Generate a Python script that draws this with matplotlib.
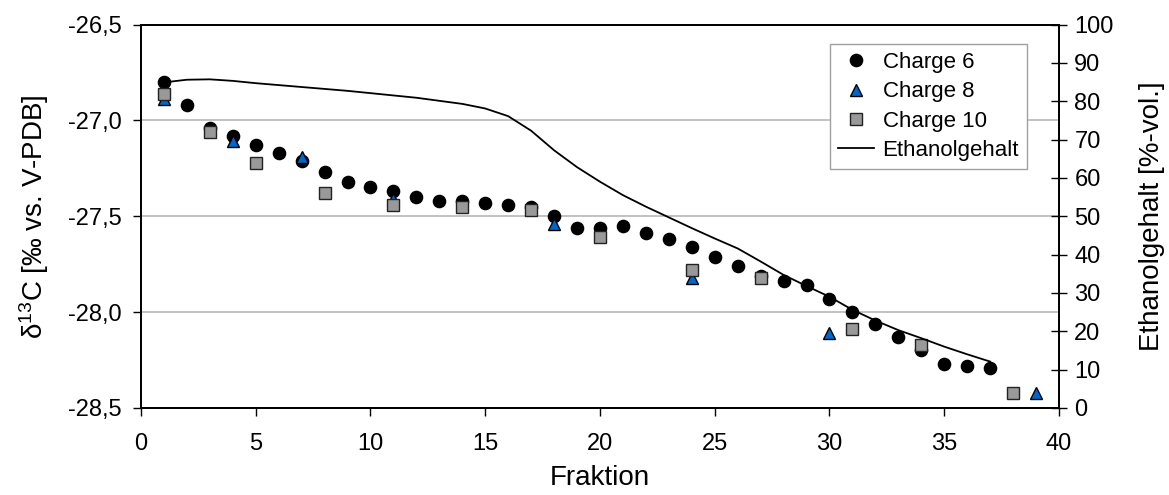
import matplotlib
matplotlib.use("Agg")
import matplotlib.pyplot as plt
from matplotlib.ticker import FuncFormatter, MultipleLocator

plt.rcParams['font.family'] = ['Liberation Sans', 'DejaVu Sans']
plt.rcParams['mathtext.fontset'] = 'custom'
plt.rcParams['mathtext.rm'] = 'Liberation Sans'
plt.rcParams['mathtext.it'] = 'Liberation Sans:italic'
plt.rcParams['mathtext.default'] = 'regular'

# Charge 6 (black circles)
c6_x = list(range(1, 38))
c6_y = [-26.80, -26.92, -27.04, -27.08, -27.13, -27.17, -27.21, -27.27, -27.32, -27.35,
        -27.37, -27.40, -27.42, -27.42, -27.43, -27.44, -27.45, -27.50, -27.56, -27.56,
        -27.55, -27.59, -27.62, -27.66, -27.71, -27.76, -27.81, -27.84, -27.86, -27.93,
        -28.00, -28.06, -28.13, -28.20, -28.27, -28.28, -28.29]

# Charge 8 (blue triangles)
c8_x = [1, 4, 7, 11, 18, 24, 30, 39]
c8_y = [-26.89, -27.11, -27.19, -27.41, -27.54, -27.82, -28.11, -28.42]

# Charge 10 (grey squares)
c10_x = [1, 3, 5, 8, 11, 14, 17, 20, 24, 27, 31, 34, 38]
c10_y = [-26.86, -27.06, -27.22, -27.38, -27.44, -27.45, -27.47, -27.61, -27.78, -27.82,
         -28.09, -28.17, -28.42]

# Ethanolgehalt (line, right axis)
eth_x = list(range(1, 38))
eth_y = [84.9, 85.6, 85.7, 85.3, 84.7, 84.2, 83.7, 83.2, 82.7, 82.1,
         81.5, 80.9, 80.1, 79.3, 78.1, 76.1, 72.3, 67.2, 62.8, 59.0,
         55.5, 52.5, 49.7, 46.9, 44.2, 41.6, 38.2, 34.7, 31.8, 29.0,
         25.6, 22.8, 20.3, 18.2, 16.0, 14.0, 12.1]

fig = plt.figure(figsize=(11.69, 4.95), dpi=100)
ax = fig.add_axes([0.1206, 0.1758, 0.9059 - 0.1206, 0.9505 - 0.1758])
ax2 = ax.twinx()

tfs = 17
lfs = 20
ax.set_xlim(0, 40)
ax.set_ylim(-28.5, -26.5)
ax.xaxis.set_major_locator(MultipleLocator(5))
ax.yaxis.set_major_locator(MultipleLocator(0.5))
ax.yaxis.set_major_formatter(FuncFormatter(lambda v, p: f"{v:.1f}".replace('.', ',')))
for v in [-27.0, -27.5, -28.0]:
    ax.axhline(v, color='#bdbdbd', lw=1.3, zorder=0)

h6, = ax.plot(c6_x, c6_y, 'o', ms=8.8, color='black', mec='black', label='Charge 6', zorder=3)
h8, = ax.plot(c8_x, c8_y, '^', ms=8.5, color='#0066cc', mec='black', mew=1.0, label='Charge 8', zorder=4)
h10, = ax.plot(c10_x, c10_y, 's', ms=8.0, color='#999999', mec='#222222', mew=1.0, label='Charge 10', zorder=5)

ax2.set_ylim(0, 100)
ax2.yaxis.set_major_locator(MultipleLocator(10))
he, = ax2.plot(eth_x, eth_y, '-', color='black', lw=1.3, label='Ethanolgehalt')

ax.tick_params(axis='y', labelsize=tfs, length=6, width=1, direction='out', pad=8)
ax.tick_params(axis='x', labelsize=tfs, length=6, width=1, direction='out', pad=12)
ax2.tick_params(axis='y', labelsize=tfs, length=12, width=1, direction='inout', pad=5)
for a in (ax, ax2):
    for s in a.spines.values():
        s.set_linewidth(1.3)

ax.set_xlabel('Fraktion', fontsize=lfs, labelpad=7)
ax.set_ylabel('δ$^{13}$C [‰ vs. V-PDB]', fontsize=lfs, labelpad=12)
ax2.set_ylabel('Ethanolgehalt [%-vol.]', fontsize=lfs, labelpad=18)

leg = ax2.legend(handles=[h6, h8, h10, he], loc='upper right',
                 bbox_to_anchor=(0.965, 0.949), fontsize=16, frameon=True,
                 fancybox=False, edgecolor='#a0a0a0', framealpha=1,
                 handlelength=1.6, handletextpad=0.4, borderpad=0.35,
                 labelspacing=0.38, borderaxespad=0)
leg.get_frame().set_linewidth(1.0)

fig.savefig('out.png', dpi=100)
